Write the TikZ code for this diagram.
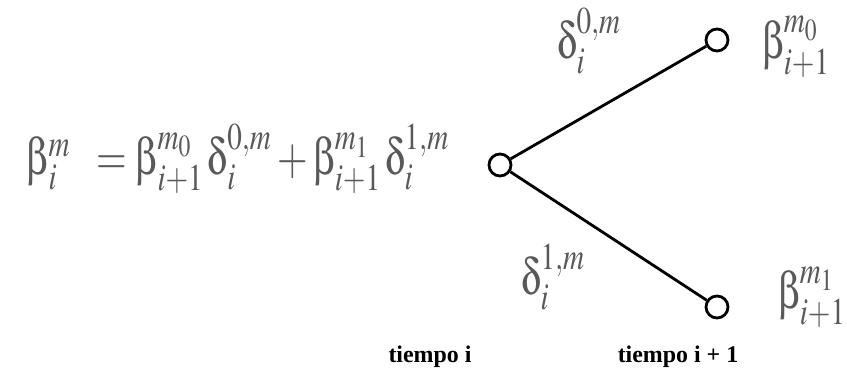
\documentclass[tikz,border=0pt]{standalone}
\usepackage{amsmath}
\usepackage{mathptmx}
\usepackage[Symbol]{upgreek}
\usepackage{fontspec}
\setmainfont{Liberation Serif}
\usepackage{xcolor}
\usetikzlibrary{positioning}
\definecolor{mathgray}{gray}{0.35}
\newcommand{\tall}[1]{\scalebox{1}[1.3]{#1}}
\tikzset{
    trellis/.style={line width=2pt, font=\fontsize{28}{32}\selectfont},
    state/.style={draw, circle, line width=2pt, minimum size=0.55cm, inner sep=0pt, fill=white},
    mlabel/.style={text=mathgray, inner sep=0pt},
    tlabel/.style={font=\fontsize{17}{20}\selectfont\bfseries, inner sep=0pt},
}
\begin{document}
\begin{tikzpicture}[trellis]
    \useasboundingbox (0,0) rectangle (21.175,9.475);

    \node[mlabel] (eq) at (5.95,5.5)
        {\tall{$\upbeta_i^{m}\;\; = \upbeta_{i+1}^{m_0}\,\updelta_i^{0,m} + \upbeta_{i+1}^{m_1}\,\updelta_i^{1,m}$}};

    \node[state] (s0) at (12.5,5.35)   {};
    \node[state] (s1) at (17.925,8.475) {};
    \node[state] (s2) at (17.925,1.8)  {};

    \draw (s0) -- (s1);
    \draw (s0) -- (s2);

    % branch and state labels
    \node[mlabel] (d0) at (14.725,8.45) {\tall{$\updelta_i^{0,m}$}};
    \node[mlabel] (d1) at (13.825,2.55) {\tall{$\updelta_i^{1,m}$}};
    \node[mlabel] (b0) at (19.9,8.3)    {\tall{$\upbeta_{i+1}^{m_0}$}};
    \node[mlabel] (b1) at (20.3,2.05)   {\tall{$\upbeta_{i+1}^{m_1}$}};

    % time axis
    \node[tlabel] (t0) at (10.75,0.55) {tiempo i};
    \node[tlabel] (t1) at (16.95,0.55) {tiempo i + 1};
\end{tikzpicture}
\end{document}
